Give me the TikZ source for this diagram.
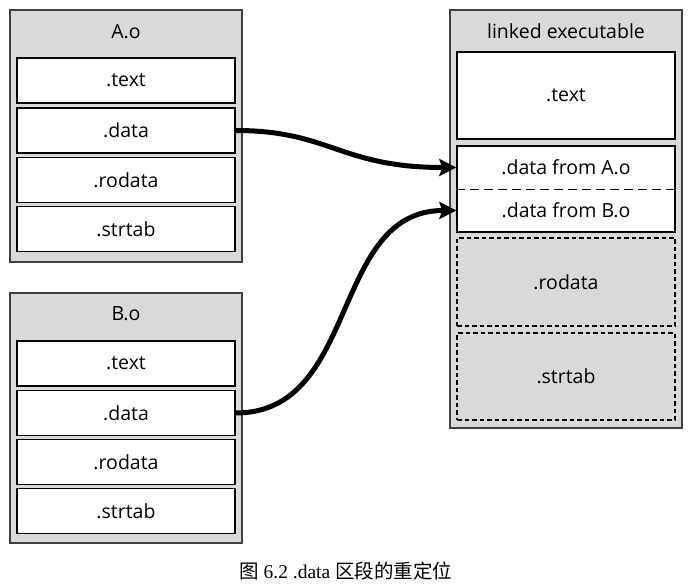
\documentclass[tikz,border=0pt]{standalone}
\usepackage{fontspec}
\setmainfont{Open Sans}
\newfontfamily\capfont{Liberation Serif}
\newfontfamily\cjk{Noto Sans CJK SC}
\usetikzlibrary{arrows.meta}
\definecolor{boxgrey}{HTML}{D9D9D9}
\definecolor{edgegrey}{HTML}{404040}

\begin{document}
\begin{tikzpicture}[x=1pt,y=-1pt,
      objfile/.style ={draw=edgegrey, line width=1.5pt, fill=boxgrey, minimum width=232pt, inner sep=0pt},
      section/.style ={draw, line width=1.4pt, fill=white, minimum width=218pt, minimum height=45pt, inner sep=0pt, font=\fontsize{19.5}{22}\selectfont},
      merged/.style ={section, draw=none, fill=none, minimum height=43pt},
      copied/.style ={section, dash pattern=on 4.5pt off 3pt, fill=boxgrey, line width=1.2pt},
      title/.style ={font=\fontsize{19.5}{22}\selectfont, inner sep=0pt},
      reloc/.style ={line width=5pt, -{Stealth[length=17pt, width=17pt, inset=3pt]}}]
   \useasboundingbox (0,0) rectangle (693,585);

   % A.o
   \node[objfile, minimum height=252pt] (Ao) at (126,136) {};
   \node[title] (Atitle) at (126,32) {A.o};
   \node[section] (Atext) at (126,80.5) {.text};
   \node[section] (Adata) at (126,130.5) {.data};
   \node[section] (Arodata) at (126,180) {.rodata};
   \node[section] (Astrtab) at (126,229) {.strtab};

   % B.o
   \node[objfile, minimum height=250pt] (Bo) at (126,418) {};
   \node[title] (Btitle) at (126,314) {B.o};
   \node[section] (Btext) at (126,363.5) {.text};
   \node[section] (Bdata) at (126,413) {.data};
   \node[section] (Brodata) at (126,462) {.rodata};
   \node[section] (Bstrtab) at (126,511) {.strtab};

   % linked executable
   \node[objfile, minimum height=418pt] (Exe) at (566,219) {};
   \node[title] (Etitle) at (566,31) {linked executable};
   \node[section, minimum height=87pt] (Etext) at (566,95.5) {.text};
   \node[section, minimum height=86pt] (Edata) at (566,189) {};
   \node[merged] (EdataA) at (566,167.5) {.data from A.o};
   \node[merged] (EdataB) at (566,210.5) {.data from B.o};
   \node[copied, minimum height=88pt] (Erodata) at (566,282) {.rodata};
   \node[copied, minimum height=87pt] (Estrtab) at (566,376.5) {.strtab};

   \draw[line width=1.2pt, dash pattern=on 9pt off 5pt] (EdataA.south west) -- (EdataA.south east);

   \draw[reloc] (Adata.east) .. controls (330,130.5) and (340,167.5) .. (EdataA.west);
   \draw[reloc] (Bdata.east) .. controls (360,413) and (330,210.5) .. (EdataB.west);

   \node[font=\fontsize{19.5}{22}\selectfont] (Caption) at (346,571) {\cjk 图 \capfont 6.2 .data \cjk 区段的重定位};
\end{tikzpicture}
\end{document}
